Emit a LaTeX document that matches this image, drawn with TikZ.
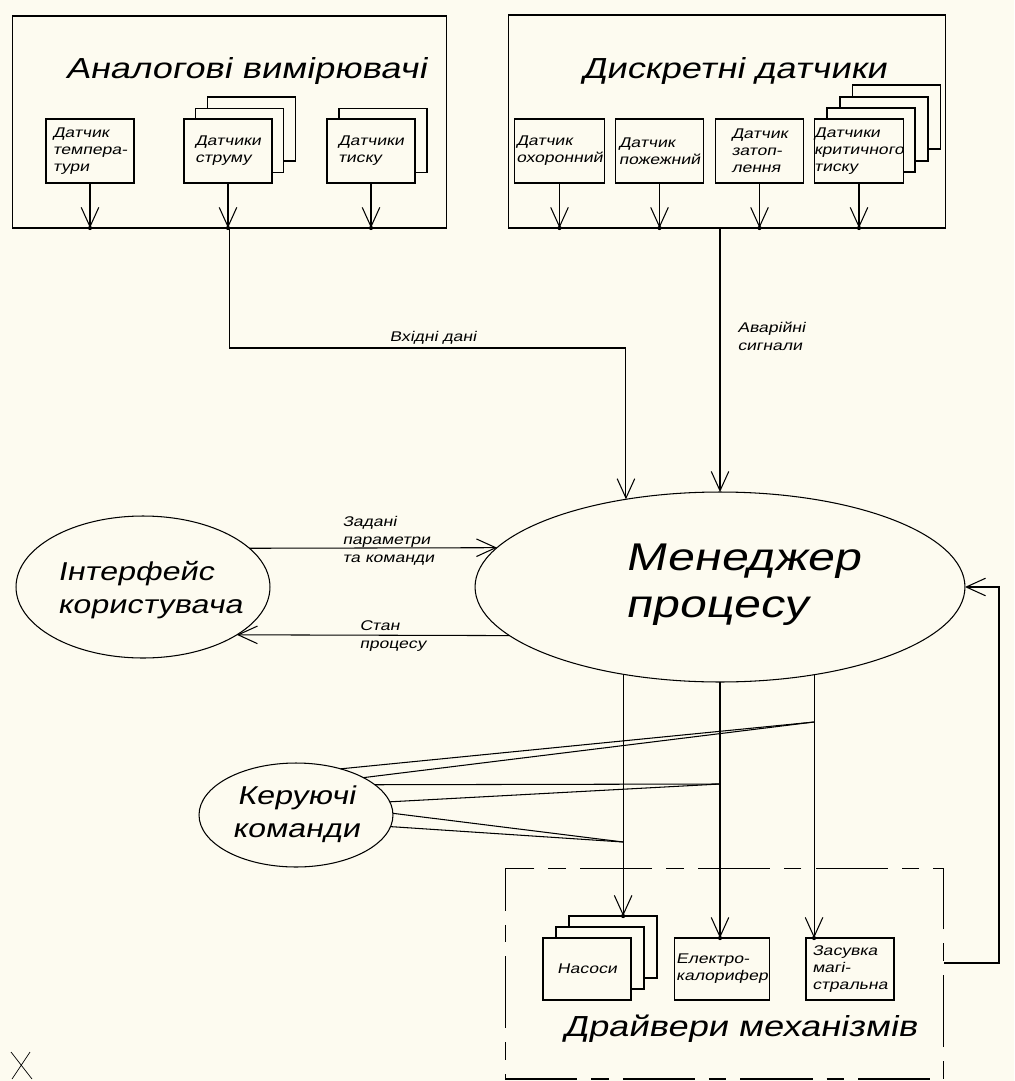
\documentclass[tikz,border=0pt]{standalone}
\usepackage{fontspec}
\newfontfamily\dfont[FakeStretch=1.25,FakeSlant=0.2]{Liberation Sans}
\usetikzlibrary{arrows.meta,shapes.geometric}
\definecolor{paper}{RGB}{253,251,240}

\begin{document}
\begin{tikzpicture}[x=0.02cm,y=-0.02cm,line width=0.6pt,
  frame/.style={draw,inner sep=0pt,outer sep=0pt},
  sensor/.style={draw,fill=paper,inner sep=1pt,outer sep=0pt,minimum width=1.76cm,minimum height=1.28cm,align=left,font=\dfont\fontsize{8}{9.7}\selectfont},
  unit/.style={sensor,minimum height=1.24cm},
  flow/.style={-{Straight Barb[length=11pt,width=10pt]}},
  oval/.style={draw,ellipse,inner sep=0pt,outer sep=0pt},
  lbl/.style={inner sep=0pt,align=left,font=\dfont\fontsize{8}{10.2}\selectfont},
  title/.style={inner sep=0pt,font=\dfont\fontsize{16.5}{20}\selectfont},
  midtext/.style={inner sep=0pt,font=\dfont\fontsize{14.7}{18.8}\selectfont}]
\fill[paper] (0,0) rectangle (1014,1081);
\path[use as bounding box] (0,0) rectangle (1014,1081);

% analog sensors
\node[frame,minimum width=8.7cm,minimum height=4.24cm] (analog) at (229.5,122) {};
\node[title] (analogtitle) at (246,71) {Аналогові вимірювачі};
\node[sensor] (temp) at (90,151) {Датчик\\темпера-\\тури};
\node[sensor] (strum3) at (251.5,129) {};
\node[sensor] (strum2) at (239.5,140.5) {};
\node[sensor] (strum) at (228,151) {Датчики\\струму};
\node[sensor] (tysk2) at (383,140.5) {};
\node[sensor] (tysk) at (371,151) {Датчики\\тиску};
\draw[flow] (temp) -- (temp |- analog.south);
\draw[flow] (strum) -- (strum |- analog.south);
\draw[flow] (tysk) -- (tysk |- analog.south);
\fill (temp |- analog.south) circle (1.2pt);
\fill (strum |- analog.south) circle (1.2pt);
\fill (tysk |- analog.south) circle (1.2pt);

% discrete sensors
\node[frame,minimum width=8.76cm,minimum height=4.26cm] (discrete) at (727,121.5) {};
\node[title] (discretetitle) at (734,71) {Дискретні датчики};
\node[sensor] (ohoron) at (559.5,151) {Датчик\\охоронний};
\node[sensor] (pozhezh) at (659.5,151) {Датчик\\пожежний};
\node[sensor] (zatop) at (759.5,151) {Датчик\\затоп-\\лення};
\node[sensor] (kryt4) at (896.5,117) {};
\node[sensor] (kryt3) at (884,129) {};
\node[sensor] (kryt2) at (871,140) {};
\node[sensor,inner sep=0pt] (kryt) at (859,151) {Датчики\\критичного\\тиску};
\draw[flow] (ohoron) -- (ohoron |- discrete.south);
\draw[flow] (pozhezh) -- (pozhezh |- discrete.south);
\draw[flow] (zatop) -- (zatop |- discrete.south);
\draw[flow] (kryt) -- (kryt |- discrete.south);
\fill (ohoron |- discrete.south) circle (1.2pt);
\fill (pozhezh |- discrete.south) circle (1.2pt);
\fill (zatop |- discrete.south) circle (1.2pt);
\fill (kryt |- discrete.south) circle (1.2pt);

% process manager and user interface
\node[oval,minimum width=9.8cm,minimum height=3.8cm] (manager) at (720,587) {};
\node[inner sep=0pt,align=left,font=\dfont\fontsize{22}{26.7}\selectfont] (managertext) at (743,585) {Менеджер\\процесу};
\node[oval,minimum width=5.08cm,minimum height=2.84cm] (iface) at (143,587) {};
\node[midtext,align=left] (ifacetext) at (150,590) {Інтерфейс\\користувача};

\draw[flow] (analog.south) |- (manager.137 |- 0,348) -- (manager.137);
\node[lbl] (vhid) at (433,338) {Вхідні дані};
\draw[flow] (manager.north |- discrete.south) -- (manager.north);
\node[lbl,anchor=west] (avar) at (737,336) {Аварійні\\сигнали};

\draw[flow] (iface.20) -- (manager.170);
\node[lbl,anchor=west] (zadani) at (342,541) {Задані\\параметри\\та команди};
\draw[flow] (manager.193) -- (iface.333);
\node[lbl,anchor=west] (stan) at (359,636) {Стан\\процесу};

% drivers
\node[frame,dash pattern=on 41pt off 8pt on 10pt off 8pt,minimum width=8.78cm,minimum height=4.22cm] (drivers) at (724.5,973.5) {};
\node[title] (driverstitle) at (740,1029) {Драйвери механізмів};
\node[unit] (nasos3) at (613,947) {};
\node[unit] (nasos2) at (600,958) {};
\node[unit] (nasos) at (587,969) {Насоси};
\node[unit] (elektro) at (722,969) {Електро-\\калорифер};
\node[unit] (zasuv) at (850,969) {Засувка\\магі-\\стральна};
\draw[flow] (manager.222) -- (manager.222 |- nasos3.north);
\draw[flow] (manager.south) -- (manager.south |- elektro.north);
\draw[flow] (manager.317) -- (manager.317 |- zasuv.north);
\fill (manager.222 |- nasos3.north) circle (1.2pt);
\fill (manager.south |- elektro.north) circle (1.2pt);
\fill (manager.317 |- zasuv.north) circle (1.2pt);
\draw[flow] (drivers.east |- 0,963) -- (999,963) |- (manager.east);

% control commands
\node[oval,minimum width=3.88cm,minimum height=2.08cm] (keruy) at (296,815) {};
\node[midtext,align=center] (keruytext) at (296,814) {Керуючі\\команди};
\coordinate (k1) at (manager.317 |- 0,722);
\coordinate (k2) at (manager.south |- 0,784);
\coordinate (k3) at (manager.222 |- 0,842);
\draw (keruy.46) -- (k1);
\draw (keruy.29) -- (k1);
\draw (keruy.21) -- (k2);
\draw (keruy.8) -- (k2);
\draw (keruy.1) -- (k3);
\draw (keruy.353) -- (k3);

\draw[line width=0.4pt] (11,1052) -- (32,1079) (30,1052) -- (12,1079);
\end{tikzpicture}
\end{document}
